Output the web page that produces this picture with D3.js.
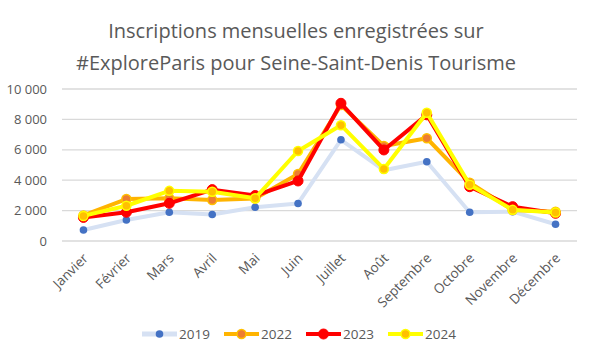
<!DOCTYPE html>
<html><head><meta charset="utf-8">
<script src="https://cdn.jsdelivr.net/npm/d3@7"></script>
<style>body{margin:0;background:#fff;} svg{display:block;}</style>
</head><body>
<script>
const months = ["Janvier","Février","Mars","Avril","Mai","Juin","Juillet","Août","Septembre","Octobre","Novembre","Décembre"];
const v2019 = [720, 1380, 1890, 1740, 2220, 2470, 6660, 4660, 5210, 1890, 1930, 1100];
const v2022 = [1680, 2760, 2810, 2700, 2800, 4410, 8950, 6250, 6760, 3840, 2040, 1930];
const v2023 = [1550, 1890, 2480, 3380, 2990, 3950, 9060, 5990, 8300, 3570, 2260, 1820];
const v2024 = [1650, 2320, 3300, 3240, 2810, 5920, 7620, 4740, 8440, 3700, 2050, 1880];
const yTicks = [0, 2000, 4000, 6000, 8000, 10000];
const seriesNames = ["2019","2022","2023","2024"];
const titleLines = ["Inscriptions mensuelles enregistrées sur", "#ExploreParis pour Seine-Saint-Denis Tourisme"];

const series = [
  {name: seriesNames[0], values: v2019, line: "#D6E1F3", lw: 4, fill: "#4472C4", stroke: "#4472C4", r: 3.8, sw: 0},
  {name: seriesNames[1], values: v2022, line: "#FFB400", lw: 4, fill: "#ED7D31", stroke: "#FFC000", r: 4.5, sw: 1.5},
  {name: seriesNames[2], values: v2023, line: "#FF0000", lw: 4, fill: "#FF0000", stroke: "#FF0000", r: 5, sw: 1},
  {name: seriesNames[3], values: v2024, line: "#FFFF00", lw: 4, fill: "#FFC000", stroke: "#FFFF00", r: 4.5, sw: 1.5}
];

const W = 592, H = 356;
const svg = d3.select("body").append("svg").attr("width", W).attr("height", H);
const font = "'Open Sans', 'Liberation Sans', sans-serif";
const txt = "#595959";

// title
svg.selectAll("text.title").data(titleLines).enter().append("text")
  .attr("class","title")
  .attr("x", 296).attr("y", (d,i) => 38 + i*32)
  .attr("text-anchor","middle")
  .attr("font-family", font).attr("font-size", 20).attr("fill", txt)
  .text(d => d);

const x = d3.scalePoint().domain(months).range([62, 577]).padding(0.5);
const y = d3.scaleLinear().domain([0, 10000]).range([241, 89]);

// grid
svg.append("g").selectAll("line").data(yTicks).enter().append("line")
  .attr("x1", 62).attr("x2", 577)
  .attr("y1", d => y(d)).attr("y2", d => y(d))
  .attr("stroke", "#D9D9D9").attr("stroke-width", 1.3);

// y axis
const yAxis = d3.axisLeft(y).tickValues(yTicks).tickSize(0).tickPadding(0)
  .tickFormat(d => d3.format(",")(d).replace(/,/g, " "));
const ga = svg.append("g").attr("transform", "translate(47,0)").call(yAxis);
ga.select(".domain").remove();
ga.selectAll("text").attr("font-family", font).attr("font-size", 13).attr("fill", txt);

// x axis
const xAxis = d3.axisBottom(x).tickSize(0).tickPadding(0);
const gx = svg.append("g").attr("transform", "translate(0,241)").call(xAxis);
gx.select(".domain").remove();
gx.selectAll("text")
  .attr("font-family", font).attr("font-size", 13.5).attr("fill", txt)
  .attr("text-anchor", "end")
  .attr("dy", null).attr("y", null)
  .attr("transform", "translate(5,18) rotate(-45)");

// lines
const line = d3.line().x((d,i) => x(months[i])).y(d => y(d));
series.forEach(s => {
  const g = svg.append("g");
  g.append("path").datum(s.values).attr("d", line)
    .attr("fill","none").attr("stroke", s.line).attr("stroke-width", s.lw)
    .attr("stroke-linejoin","round").attr("stroke-linecap","round");
  g.selectAll("circle").data(s.values).enter().append("circle")
    .attr("cx", (d,i) => x(months[i])).attr("cy", d => y(d)).attr("r", s.r)
    .attr("fill", s.fill).attr("stroke", s.stroke).attr("stroke-width", s.sw);
});

// legend
const leg = svg.append("g").attr("transform", "translate(142,334)");
series.forEach((s, i) => {
  const g = leg.append("g").attr("transform", `translate(${i*82},0)`);
  g.append("line").attr("x1", 0).attr("x2", 35).attr("y1", 0).attr("y2", 0)
    .attr("stroke", s.line).attr("stroke-width", i === 0 ? 5 : 4);
  g.append("circle").attr("cx", 17.5).attr("cy", 0).attr("r", s.r)
    .attr("fill", s.fill).attr("stroke", s.stroke).attr("stroke-width", s.sw);
  g.append("text").attr("x", 37).attr("y", 0).attr("dy", "0.35em")
    .attr("font-family", font).attr("font-size", 13.5).attr("fill", txt).text(s.name);
});
</script>
</body></html>
